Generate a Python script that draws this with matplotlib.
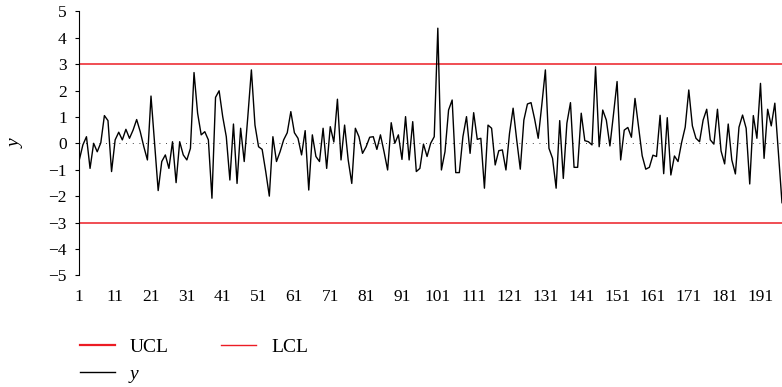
import matplotlib
matplotlib.use("Agg")
import matplotlib.pyplot as plt
from matplotlib.lines import Line2D

y_values = [
    -0.63, -0.06, 0.25, -0.95, 0.00, -0.32, 0.02, 1.05, 0.86, -1.07,
    0.13, 0.42, 0.13, 0.53, 0.19, 0.50, 0.90, 0.44, -0.13, -0.63,
    1.79, 0.00, -1.79, -0.69, -0.44, -0.95, 0.06, -1.49, 0.06, -0.44,
    -0.63, -0.19, 2.68, 1.14, 0.32, 0.44, 0.13, -2.08, 1.74, 1.99,
    1.01, 0.25, -1.39, 0.73, -1.52, 0.57, -0.69, 1.00, 2.78, 0.69,
    -0.13, -0.23, -1.07, -2.00, 0.25, -0.69, -0.32, 0.13, 0.40, 1.20,
    0.40, 0.19, -0.44, 0.48, -1.77, 0.32, -0.50, -0.69, 0.57, -0.95,
    0.63, 0.05, 1.67, -0.63, 0.69, -0.63, -1.52, 0.57, 0.25, -0.38,
    -0.13, 0.23, 0.25, -0.23, 0.32, -0.32, -1.01, 0.78, 0.00, 0.32,
    -0.61, 1.01, -0.63, 0.82, -1.07, -0.95, -0.03, -0.50, 0.00, 0.25,
    4.36, -1.01, -0.32, 1.26, 1.64, -1.11, -1.11, 0.25, 1.01, -0.38,
    1.16, 0.15, 0.19, -1.70, 0.69, 0.57, -0.82, -0.28, -0.25, -1.01,
    0.38, 1.33, 0.13, -0.98, 0.88, 1.49, 1.54, 0.92, 0.19, 1.45,
    2.78, -0.19, -0.57, -1.70, 0.86, -1.33, 0.76, 1.54, -0.91, -0.91,
    1.14, 0.10, 0.06, -0.06, 2.90, -0.13, 1.26, 0.88, -0.10, 1.10,
    2.34, -0.63, 0.50, 0.60, 0.23, 1.70, 0.63, -0.47, -0.98, -0.91,
    -0.45, -0.50, 1.06, -1.15, 0.97, -1.20, -0.48, -0.69, 0.03, 0.61,
    2.02, 0.66, 0.19, 0.06, 0.88, 1.29, 0.13, -0.03, 1.29, -0.29,
    -0.78, 0.73, -0.63, -1.16, 0.61, 1.07, 0.57, -1.54, 1.05, 0.19,
    2.27, -0.57, 1.29, 0.66, 1.52, -0.37, -2.25,
]
obs = list(range(1, len(y_values) + 1))
ucl = 3
lcl = -3
x_ticks = list(range(1, 192, 10))
y_ticks = list(range(-5, 6))

plt.rcParams['font.family'] = ['Liberation Serif', 'DejaVu Serif']

fig = plt.figure(figsize=(7.82, 3.87), dpi=100)
ax = fig.add_axes([0.1014, 0.2886, 0.8986, 0.6822])

red = '#ec1c24'
ax.axhline(ucl, color=red, lw=1.1)
ax.axhline(lcl, color=red, lw=1.1)
ax.axhline(0, color='black', lw=0.6, linestyle=(0, (1, 7)))
ax.plot(obs, y_values, color='black', lw=1.0)

ax.set_xlim(1, 197)
ax.set_ylim(-5, 5)
ax.set_xticks(x_ticks)
ax.set_yticks(y_ticks)
ax.tick_params(axis='x', length=0, pad=10, labelsize=12.5)
ax.tick_params(axis='y', length=3, width=0.8, pad=6, labelsize=12.5)

for side in ['top', 'right', 'bottom']:
    ax.spines[side].set_visible(False)
ax.spines['left'].set_linewidth(0.8)

ax.set_ylabel('y', fontsize=14, fontstyle='italic')
ax.yaxis.set_label_coords(-0.0785, 0.5)

# legend keys: UCL drawn a bit thicker, as in the original
h_ucl = Line2D([], [], color=red, lw=1.6)
h_lcl = Line2D([], [], color=red, lw=1.0)
h_y = Line2D([], [], color='black', lw=1.0)
leg = fig.legend([h_ucl, h_y, h_lcl], ['UCL', 'y', 'LCL'], ncol=2,
                 loc='upper left', bbox_to_anchor=(0.1023, 0.1266),
                 frameon=False, fontsize=14, borderpad=0, borderaxespad=0,
                 handlelength=1.8, handletextpad=0.77, columnspacing=2.7,
                 labelspacing=0.5)
leg.get_texts()[1].set_fontstyle('italic')

plt.savefig('out.png', dpi=100)
